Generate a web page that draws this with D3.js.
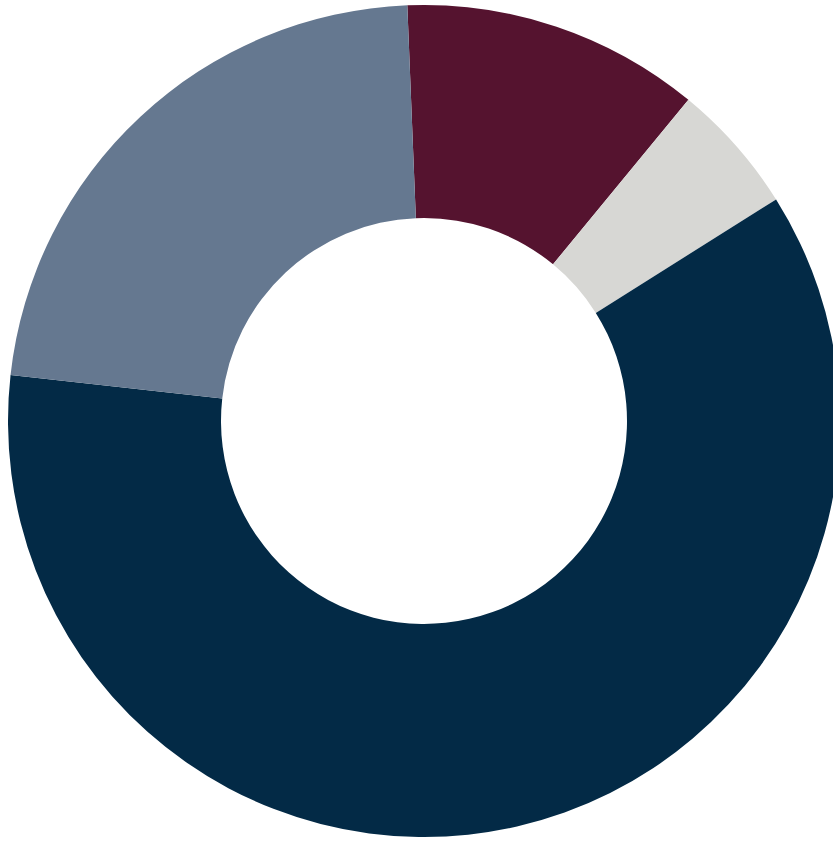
<!DOCTYPE html>
<html>
<head>
<meta charset="utf-8">
<script src="https://cdn.jsdelivr.net/npm/d3@7"></script>
<style>
  html, body { margin: 0; padding: 0; background: #ffffff; }
  svg { display: block; }
</style>
</head>
<body>
<svg id="chart" width="833" height="842"></svg>
<script>
// Share of each segment (percent), in drawing order clockwise from the top
const categories = ["Segment A", "Segment B", "Segment C", "Segment D"];
const values = [11.6, 5.1, 60.7, 22.6];
const colors = ["#55132f", "#d7d7d4", "#032a46", "#657890"];

const svg = d3.select("#chart");
const cx = 424, cy = 421;
const outerR = 416, innerR = 203;

const pie = d3.pie()
  .sort(null)
  .value(d => d.value)
  .startAngle(-2.3 * Math.PI / 180)
  .endAngle(2 * Math.PI - 2.3 * Math.PI / 180);

const arc = d3.arc().innerRadius(innerR).outerRadius(outerR);

const color = d3.scaleOrdinal().domain(categories).range(colors);

const data = categories.map((c, i) => ({ category: c, value: values[i] }));

svg.append("g")
  .attr("transform", `translate(${cx},${cy})`)
  .selectAll("path")
  .data(pie(data))
  .join("path")
  .attr("d", arc)
  .attr("fill", d => color(d.data.category));
</script>
</body>
</html>
